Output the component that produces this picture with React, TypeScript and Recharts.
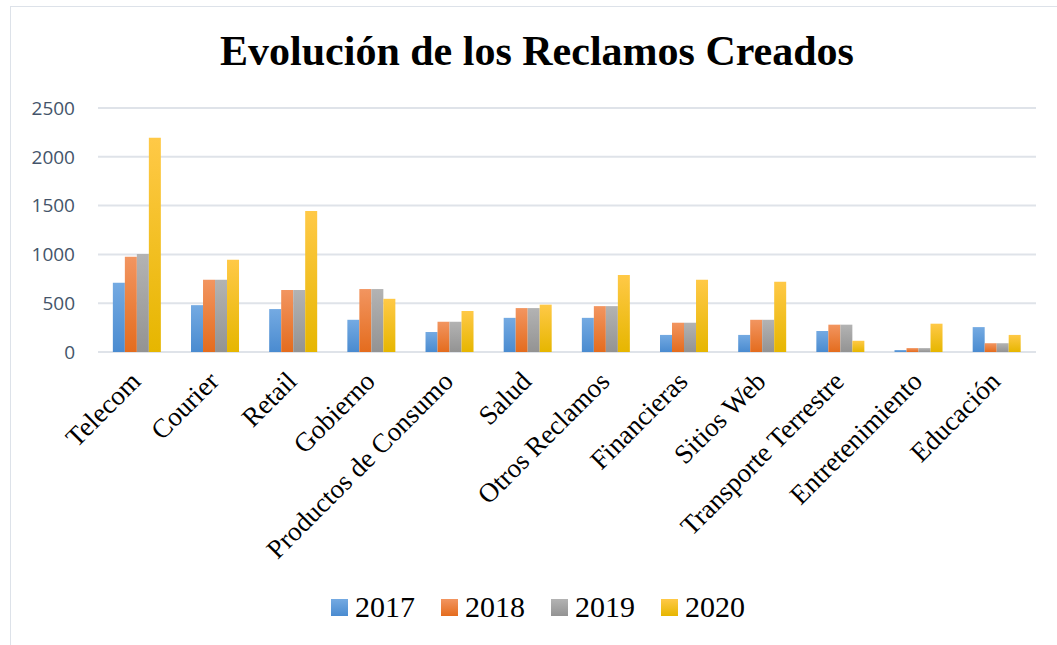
import { BarChart, Bar, XAxis, YAxis, CartesianGrid, Legend } from "recharts";

const categories = [
  "Telecom",
  "Courier",
  "Retail",
  "Gobierno",
  "Productos de Consumo",
  "Salud",
  "Otros Reclamos",
  "Financieras",
  "Sitios Web",
  "Transporte Terrestre",
  "Entretenimiento",
  "Educación",
];

const years = ["2017", "2018", "2019", "2020"];

const v2017 = [710, 480, 440, 330, 205, 350, 350, 175, 175, 215, 20, 255];
const v2018 = [975, 740, 635, 645, 310, 450, 470, 300, 330, 280, 40, 90];
const v2019 = [1005, 740, 635, 645, 310, 450, 470, 300, 330, 280, 40, 90];
const v2020 = [2195, 945, 1445, 545, 420, 485, 790, 740, 720, 115, 290, 175];

const yTicks = [0, 500, 1000, 1500, 2000, 2500];

// top / bottom colours of each series gradient
const grads: Record<string, [string, string]> = {
  "2017": ["#74aae2", "#4a8bd0"],
  "2018": ["#f29560", "#e46c1e"],
  "2019": ["#b3b3b3", "#939393"],
  "2020": ["#ffc947", "#e6b600"],
};

const data = categories.map((name, i) => ({
  name,
  "2017": v2017[i],
  "2018": v2018[i],
  "2019": v2019[i],
  "2020": v2020[i],
}));

// eslint-disable-next-line @typescript-eslint/no-explicit-any
function CategoryTick({ x, y, payload }: any) {
  return (
    <g transform={`translate(${x + 5},${y + 23})`}>
      <text
        transform="rotate(-45)"
        textAnchor="end"
        fontFamily="'Liberation Serif', 'Times New Roman', serif"
        fontSize={27}
        fill="#000"
      >
        {payload.value}
      </text>
    </g>
  );
}

function LegendBox() {
  return (
    <div
      style={{
        display: "flex",
        justifyContent: "center",
        alignItems: "center",
        paddingLeft: 30,
        height: 40,
        fontFamily: "'Liberation Serif', 'Times New Roman', serif",
        fontSize: 30,
        color: "#000",
      }}
    >
      {years.map((y) => (
        <div key={y} style={{ display: "flex", alignItems: "center", margin: "0 13px" }}>
          <span
            style={{
              width: 17,
              height: 17,
              marginRight: 7,
              background: `linear-gradient(${grads[y][0]}, ${grads[y][1]})`,
            }}
          />
          <span>{y}</span>
        </div>
      ))}
    </div>
  );
}

export default function App() {
  return (
    <div
      style={{
        position: "fixed",
        left: 0,
        top: 0,
        width: 1057,
        height: 645,
        background: "#fff",
        overflow: "hidden",
      }}
    >
      <div
        style={{
          position: "absolute",
          left: 10,
          top: 6,
          width: 1200,
          height: 800,
          border: "1.5px solid #dde2e9",
        }}
      />
      <div
        style={{
          position: "absolute",
          left: 0,
          top: 27,
          width: 1074,
          textAlign: "center",
          fontFamily: "'Liberation Serif', 'Times New Roman', serif",
          fontWeight: "bold",
          fontSize: 42,
          color: "#000",
        }}
      >
        Evolución de los Reclamos Creados
      </div>
      <div style={{ position: "absolute", left: 0, top: 0 }}>
        <BarChart
          width={1057}
          height={645}
          data={data}
          margin={{ top: 108, right: 21, left: 10, bottom: 18 }}
          barGap={0}
          barCategoryGap="19%"
        >
          <defs>
            {years.map((y) => (
              <linearGradient key={y} id={`g${y}`} x1="0" y1="0" x2="0" y2="1">
                <stop offset="0%" stopColor={grads[y][0]} />
                <stop offset="100%" stopColor={grads[y][1]} />
              </linearGradient>
            ))}
          </defs>
          <CartesianGrid vertical={false} stroke="#dfe3e9" strokeWidth={2} />
          <XAxis
            dataKey="name"
            interval={0}
            height={235}
            axisLine={false}
            tickLine={false}
            tick={<CategoryTick />}
          />
          <YAxis
            domain={[0, 2500]}
            ticks={yTicks}
            width={88}
            axisLine={false}
            tickLine={false}
            tickSize={0}
            tickMargin={23}
            tick={{ fontSize: 19, fill: "#44546a", fontFamily: "'Open Sans', sans-serif" }}
          />
          <Legend verticalAlign="bottom" wrapperStyle={{ height: 40 }} content={<LegendBox />} />
          {years.map((y) => (
            <Bar key={y} dataKey={y} fill={`url(#g${y})`} isAnimationActive={false} />
          ))}
        </BarChart>
      </div>
    </div>
  );
}
